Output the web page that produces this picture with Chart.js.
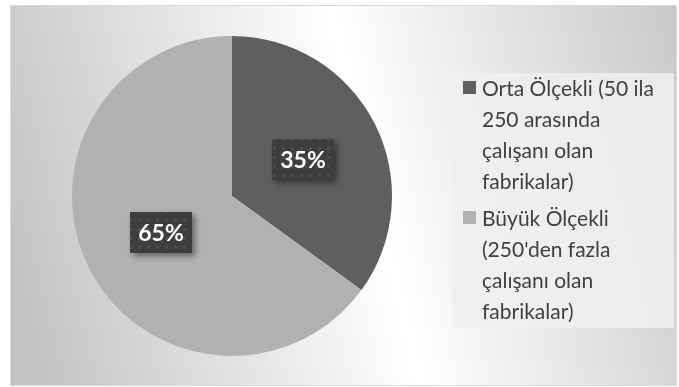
<!DOCTYPE html>
<html lang="tr">
<head>
<meta charset="UTF-8">
<title>Fabrika Ölçeği</title>
<script src="https://cdn.jsdelivr.net/npm/chart.js@4.4.0/dist/chart.umd.min.js"></script>
<style>
  html, body { margin: 0; padding: 0; background: #fff; }
  #wrap { width: 679px; height: 387px; }
</style>
</head>
<body>
<div id="wrap"><canvas id="myChart" width="679" height="387"></canvas></div>
<script>
// categories (legend text, already broken into lines) and shares in percent
const categories = [
  ['Orta Ölçekli (50 ila', '250 arasında', 'çalışanı olan', 'fabrikalar)'],
  ['Büyük Ölçekli', "(250'den fazla", 'çalışanı olan', 'fabrikalar)']
];
const shares = [35, 65];
const sliceColors = ['#5f5f5f', '#b1b1b1'];

const FONT = 'Lato, "Open Sans", sans-serif';

// gray - white - gray linear fill of the chart box
const backgroundPlugin = {
  id: 'bgBox',
  beforeDraw(chart) {
    const ctx = chart.ctx;
    const x0 = 10, y0 = 5, x1 = 677, y1 = 386;
    ctx.save();
    const g = ctx.createLinearGradient(20, 280, 730, 110);
    g.addColorStop(0, '#c4c4c4');
    g.addColorStop(0.5, '#ffffff');
    g.addColorStop(1, '#c4c4c4');
    ctx.fillStyle = g;
    ctx.fillRect(x0, y0, x1 - x0, y1 - y0);
    ctx.strokeStyle = '#d9d9d9';
    ctx.lineWidth = 1;
    ctx.strokeRect(x0 + 0.5, y0 + 0.5, x1 - x0 - 1, y1 - y0 - 1);
    ctx.restore();
  }
};

// dotted dark fill for the value boxes
function makeDotPattern(ctx) {
  const c = document.createElement('canvas');
  c.width = 9; c.height = 9;
  const p = c.getContext('2d');
  p.fillStyle = '#3e3e3e';
  p.fillRect(0, 0, 9, 9);
  p.fillStyle = '#4e4e4e';
  p.fillRect(3, 3, 3, 3);
  return ctx.createPattern(c, 'repeat');
}

const valueLabelPlugin = {
  id: 'valueLabels',
  afterDatasetsDraw(chart) {
    const ctx = chart.ctx;
    const meta = chart.getDatasetMeta(0);
    const pattern = makeDotPattern(ctx);
    ctx.save();
    ctx.font = 'bold 23px ' + FONT;
    ctx.textAlign = 'center';
    ctx.textBaseline = 'middle';
    meta.data.forEach((arc, i) => {
      const pos = arc.tooltipPosition();
      const w = 62, h = 41;
      const bx = Math.round(pos.x - w / 2), by = Math.round(pos.y - h / 2);
      ctx.save();
      ctx.shadowColor = 'rgba(0,0,0,0.45)';
      ctx.shadowBlur = 6;
      ctx.shadowOffsetX = 3;
      ctx.shadowOffsetY = 3;
      ctx.fillStyle = pattern;
      ctx.fillRect(bx, by, w, h);
      ctx.restore();
      ctx.fillStyle = '#ffffff';
      ctx.fillText(shares[i] + '%', bx + w / 2, by + h / 2 + 1);
    });
    ctx.restore();
  }
};

// legend panel on the right, one square marker per category
const legendPlugin = {
  id: 'sideLegend',
  afterDraw(chart) {
    const ctx = chart.ctx;
    ctx.save();
    ctx.fillStyle = 'rgba(240,240,240,0.85)';
    ctx.fillRect(452, 73, 222, 255);
    ctx.font = '21px ' + FONT;
    ctx.textBaseline = 'middle';
    const lineH = 31;
    const starts = [89, 219];
    categories.forEach((lines, i) => {
      const y = starts[i];
      ctx.fillStyle = sliceColors[i];
      ctx.fillRect(463, y - 8, 13, 13);
      ctx.fillStyle = '#404040';
      lines.forEach((t, k) => ctx.fillText(t, 482, y + k * lineH));
    });
    ctx.restore();
  }
};

const ctx = document.getElementById('myChart').getContext('2d');
const myChart = new Chart(ctx, {
  type: 'pie',
  data: {
    labels: categories,
    datasets: [{
      data: shares,
      backgroundColor: sliceColors,
      borderWidth: 0
    }]
  },
  options: {
    responsive: false,
    animation: false,
    layout: { padding: { top: 36, bottom: 31, left: 72, right: 287 } },
    plugins: {
      legend: { display: false },
      tooltip: { enabled: false }
    }
  },
  plugins: [backgroundPlugin, valueLabelPlugin, legendPlugin]
});
</script>
</body>
</html>
